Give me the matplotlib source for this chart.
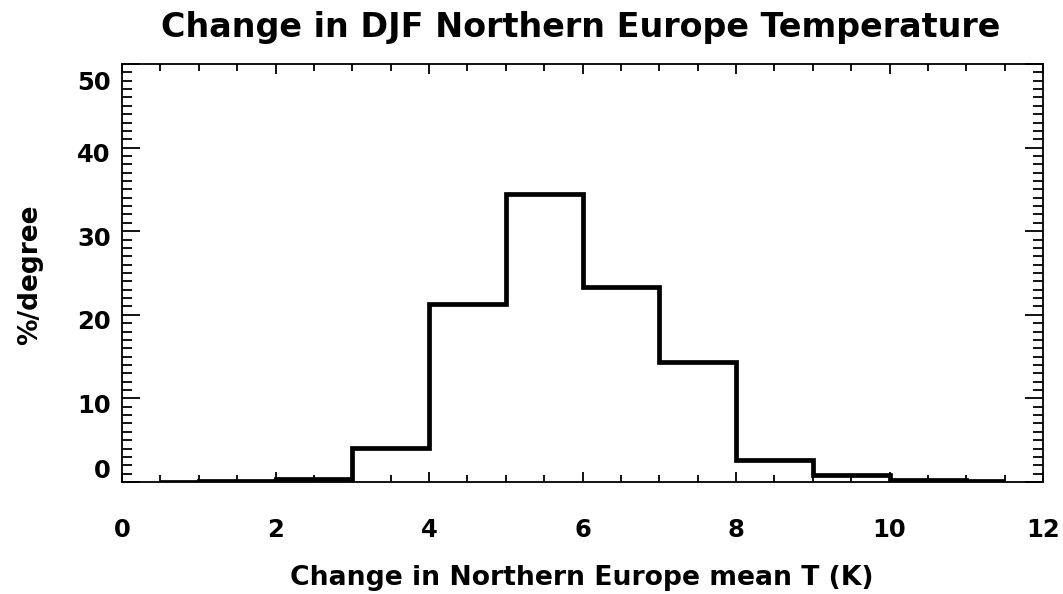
import matplotlib
matplotlib.use("Agg")
import matplotlib.pyplot as plt
from matplotlib.ticker import MultipleLocator
from matplotlib.transforms import ScaledTranslation

# Data: bin centres and % per degree
bin_centers = [0.5, 1.5, 2.5, 3.5, 4.5, 5.5, 6.5, 7.5, 8.5, 9.5, 10.5, 11.5]
pct_per_degree = [0.05, 0.1, 0.4, 4.1, 21.3, 34.4, 23.3, 14.4, 2.6, 0.8, 0.2, 0.1]

x_ticks = [0, 2, 4, 6, 8, 10, 12]
y_ticks = [0, 10, 20, 30, 40, 50]

title = "Change in DJF Northern Europe Temperature"
xlabel = "Change in Northern Europe mean T (K)"
ylabel = "%/degree"

plt.rcParams['font.family'] = ['DejaVu Sans']
plt.rcParams['font.weight'] = 'bold'

fig = plt.figure(figsize=(10.63, 5.94), dpi=100)
ax = fig.add_axes([122/1063, 1-482/594, (1043-122)/1063, (482-64)/594])

# IDL psym=10 style step: half-width end segments
xs = [bin_centers[0]]
ys = [pct_per_degree[0]]
for i in range(len(bin_centers) - 1):
    edge = 0.5 * (bin_centers[i] + bin_centers[i+1])
    xs += [edge, edge]
    ys += [pct_per_degree[i], pct_per_degree[i+1]]
xs.append(bin_centers[-1])
ys.append(pct_per_degree[-1])
ax.plot(xs, ys, color='black', lw=3.4, solid_joinstyle='miter', solid_capstyle='butt')

ax.set_xlim(0, 12)
ax.set_ylim(0, 50)
ax.set_xticks(x_ticks)
ax.set_yticks(y_ticks)
ax.xaxis.set_minor_locator(MultipleLocator(0.5))
ax.yaxis.set_minor_locator(MultipleLocator(1))

for s in ax.spines.values():
    s.set_linewidth(1.3)

ax.tick_params(axis='both', which='both', direction='in', top=True, right=True,
               width=1.3, labelsize=17.5)
ax.tick_params(axis='x', which='major', length=7, pad=26)
ax.tick_params(axis='x', which='minor', length=5)
ax.tick_params(axis='y', which='major', length=13, pad=8)
ax.tick_params(axis='y', which='minor', length=7)

for lab in ax.get_xticklabels() + ax.get_yticklabels():
    lab.set_fontweight('bold')

# IDL-like vertical label offsets (pixels at 100 dpi; positive = up)
ylabs = ax.get_yticklabels()
offsets_px = [13, -5, -5, -5, -5, -17]
for lab, off in zip(ylabs, offsets_px):
    lab.set_transform(lab.get_transform() + ScaledTranslation(0, off / 100, fig.dpi_scale_trans))

fig.text(581/1063, 1-27/594, title, ha='center', va='center', fontsize=24, fontweight='bold')
fig.text(582/1063, 1-578/594, xlabel, ha='center', va='center', fontsize=19.2, fontweight='bold')
fig.text(30/1063, 1-275/594, ylabel, ha='center', va='center', rotation=90, fontsize=19, fontweight='bold')

fig.savefig("out.png", dpi=100)
